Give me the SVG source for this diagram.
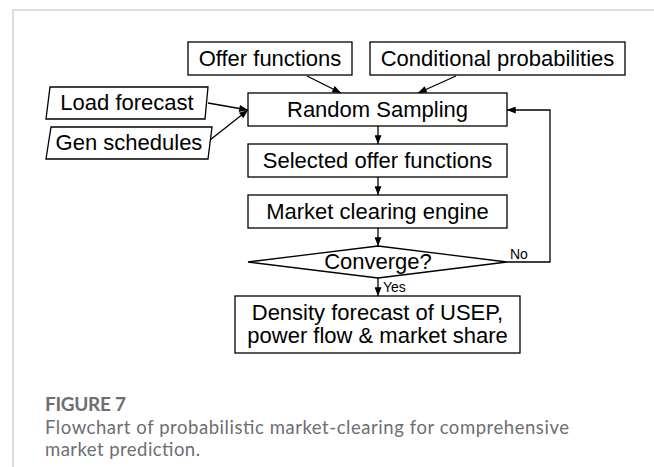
<svg xmlns="http://www.w3.org/2000/svg" width="654" height="467" viewBox="0 0 654 467">
  <style>
    .box { fill: #ffffff; stroke: #000000; stroke-width: 1.3; }
    .lbl { font-family: "Liberation Sans", Arial, Helvetica, sans-serif; font-size: 22px; fill: #000000; text-anchor: middle; }
    .small { font-family: "Liberation Sans", Arial, Helvetica, sans-serif; font-size: 14px; fill: #000000; }
    .conn { fill: none; stroke: #000000; stroke-width: 1.3; }
    .cap-title { font-family: Lato, "Open Sans", sans-serif; font-size: 19px; font-weight: 700; fill: #6d6e71; }
    .cap { font-family: Lato, "Open Sans", sans-serif; font-size: 18.5px; fill: #6d6e71; }
  </style>
  <defs>
    <marker id="arrow" viewBox="0 0 10 8" refX="10" refY="4" markerWidth="10" markerHeight="7" markerUnits="userSpaceOnUse" orient="auto">
      <path d="M0,0 L10,4 L0,8 Z" fill="#000000"/>
    </marker>
  </defs>

  <rect width="654" height="467" fill="#ffffff"/>
  <!-- figure frame -->
  <path d="M13,467 L13,10 L654,10" fill="none" stroke="#d4d4d4" stroke-width="1.5"/>

  <!-- connectors -->
  <g id="connectors">
    <line class="conn" x1="307" y1="76" x2="341" y2="93" marker-end="url(#arrow)"/>
    <line class="conn" x1="456" y1="76" x2="418" y2="93" marker-end="url(#arrow)"/>
    <line class="conn" x1="208" y1="103" x2="248" y2="110" marker-end="url(#arrow)"/>
    <line class="conn" x1="210" y1="140" x2="248" y2="110" marker-end="url(#arrow)"/>
    <line class="conn" x1="378" y1="126" x2="378" y2="144" marker-end="url(#arrow)"/>
    <line class="conn" x1="378" y1="177" x2="378" y2="195" marker-end="url(#arrow)"/>
    <line class="conn" x1="378" y1="228" x2="378" y2="246" marker-end="url(#arrow)"/>
    <line class="conn" x1="378" y1="278" x2="378" y2="296" marker-end="url(#arrow)"/>
    <polyline class="conn" points="507,262 550,262 550,110 507,110" marker-end="url(#arrow)"/>
    <text class="small" x="383" y="292">Yes</text>
    <text class="small" x="510" y="259">No</text>
  </g>

  <g id="offer-functions">
    <rect class="box" x="188" y="42" width="164" height="33"/>
    <text class="lbl" x="270" y="66">Offer functions</text>
  </g>

  <g id="conditional-probabilities">
    <rect class="box" x="370" y="42" width="255" height="33"/>
    <text class="lbl" x="497.5" y="66">Conditional probabilities</text>
  </g>

  <g id="load-forecast">
    <polygon class="box" points="50,87 208,87 205,119 46,119"/>
    <text class="lbl" x="127" y="110">Load forecast</text>
  </g>

  <g id="gen-schedules">
    <polygon class="box" points="51,127 212,127 208,159 46,159"/>
    <text class="lbl" x="129" y="150">Gen schedules</text>
  </g>

  <g id="random-sampling">
    <rect class="box" x="248" y="93" width="259" height="33"/>
    <text class="lbl" x="377.5" y="117">Random Sampling</text>
  </g>

  <g id="selected-offer-functions">
    <rect class="box" x="248" y="144" width="259" height="33"/>
    <text class="lbl" x="377.5" y="168">Selected offer functions</text>
  </g>

  <g id="market-clearing-engine">
    <rect class="box" x="248" y="195" width="259" height="33"/>
    <text class="lbl" x="377.5" y="219">Market clearing engine</text>
  </g>

  <g id="converge">
    <polygon class="box" points="378,246 507,262 378,278 248,262"/>
    <text class="lbl" x="378" y="269">Converge?</text>
  </g>

  <g id="density-forecast">
    <rect class="box" x="235" y="296" width="285" height="57"/>
    <text class="lbl" x="377.5" y="320">Density forecast of USEP,</text>
    <text class="lbl" x="377.5" y="343">power flow &amp; market share</text>
  </g>

  <!-- caption -->
  <text class="cap-title" x="45" y="411" textLength="81" lengthAdjust="spacing">FIGURE 7</text>
  <text class="cap" x="45" y="433.5" textLength="524" lengthAdjust="spacing">Flowchart of probabilistic market-clearing for comprehensive</text>
  <text class="cap" x="45" y="456" textLength="155" lengthAdjust="spacing">market prediction.</text>
</svg>
